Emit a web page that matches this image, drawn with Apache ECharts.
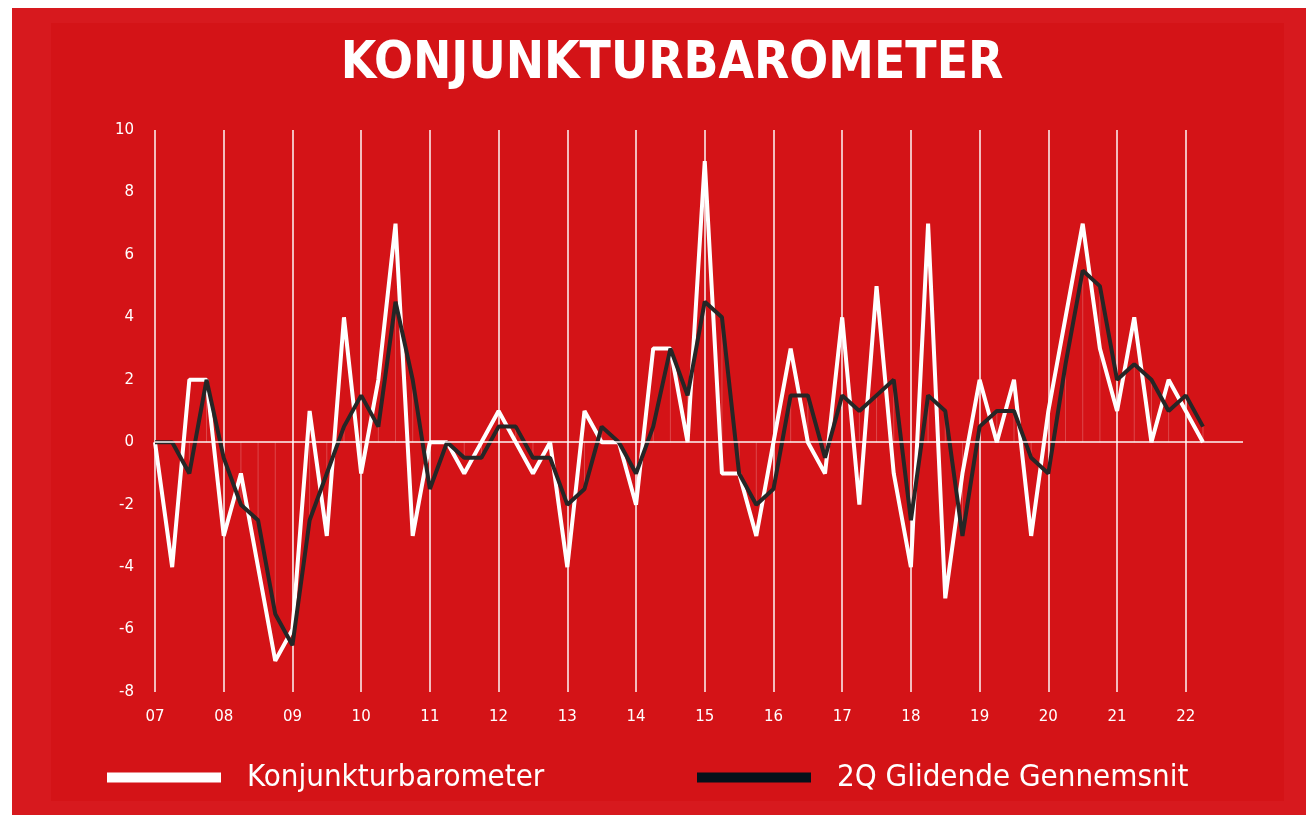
<!DOCTYPE html>
<html>
<head>
<meta charset="utf-8">
<title>Konjunkturbarometer</title>
<script src="https://cdn.jsdelivr.net/npm/echarts@6/dist/echarts.min.js"></script>
<style>
  html, body { margin: 0; padding: 0; background: #fff; }
  #outer { position: absolute; left: 12px; top: 8px; width: 1294px; height: 807px; background: #d7191e; }
  #inner { position: absolute; left: 51px; top: 23px; width: 1233px; height: 778px; background: #d41317; }
  #chart { position: absolute; left: 0; top: 0; width: 1306px; height: 815px; }
</style>
</head>
<body>
<div id="outer"></div>
<div id="inner"></div>
<div id="chart"></div>
<script>
// aarstal paa x-aksen (hvert 4. kvartal)
const years = ['07', '08', '09', '10', '11', '12', '13', '14', '15', '16', '17', '18', '19', '20', '21', '22'];
// kvartaler 07Q1 .. 22Q2
const quarters = years.flatMap(y => ['Q1', 'Q2', 'Q3', 'Q4'].map(q => y + q)).slice(0, 62);

const konjunktur = [
  0, -4, 2, 2, -3, -1, -4, -7,
  -6, 1, -3, 4, -1, 2, 7, -3,
  0, 0, -1, 0, 1, 0, -1, 0,
  -4, 1, 0, 0, -2, 3, 3, 0,
  9, -1, -1, -3, 0, 3, 0, -1,
  4, -2, 5, -1, -4, 7, -5, -1,
  2, 0, 2, -3, 1, 4, 7, 3,
  1, 4, 0, 2, 1, 0
];

const glidende = [
  0, 0, -1, 2, -0.5, -2, -2.5, -5.5,
  -6.5, -2.5, -1, 0.5, 1.5, 0.5, 4.5, 2,
  -1.5, 0, -0.5, -0.5, 0.5, 0.5, -0.5, -0.5,
  -2, -1.5, 0.5, 0, -1, 0.5, 3, 1.5,
  4.5, 4, -1, -2, -1.5, 1.5, 1.5, -0.5,
  1.5, 1, 1.5, 2, -2.5, 1.5, 1, -3,
  0.5, 1, 1, -0.5, -1, 2.5, 5.5, 5,
  2, 2.5, 2, 1, 1.5, 0.5
];

const yTicks = { min: -8, max: 10, step: 2 };

const gridColor = 'rgba(255, 255, 255, 0.72)';
const narrow = "'Liberation Sans Narrow', 'DejaVu Sans Condensed', sans-serif";

const chart = echarts.init(document.getElementById('chart'));

const legendBase = {
  top: 762,
  padding: 0,
  icon: 'rect',
  itemWidth: 114,
  itemHeight: 10,
  textStyle: { color: '#fff', fontSize: 31, fontFamily: narrow, padding: [0, 0, 0, 21] }
};

const option = {
  animation: false,
  title: {
    text: 'KONJUNKTURBAROMETER',
    left: 667,
    top: 34,
    textAlign: 'center',
    textStyle: {
      color: '#fff',
      fontSize: 51,
      fontWeight: 'bold',
      fontFamily: narrow
    }
  },
  legend: [
    Object.assign({}, legendBase, {
      left: 107,
      data: [{ name: 'Konjunkturbarometer', itemStyle: { color: '#ffffff' } }]
    }),
    Object.assign({}, legendBase, {
      left: 697,
      data: [{ name: '2Q Glidende Gennemsnit', itemStyle: { color: '#06111a' } }]
    })
  ],
  grid: {
    left: 155,
    right: 63,
    top: 130,
    bottom: 123
  },
  xAxis: {
    type: 'value',
    min: 0,
    max: 63.33,
    interval: 4,
    axisLine: { show: false },
    axisTick: { show: false },
    axisLabel: {
      color: '#fff',
      fontSize: 15,
      fontFamily: 'DejaVu Sans',
      margin: 18,
      showMaxLabel: false,
      formatter: v => years[v / 4] || ''
    },
    splitLine: {
      show: true,
      // sidste tick (akse-enden) skal ikke have en linje
      lineStyle: { color: years.map(() => gridColor).concat(['rgba(0,0,0,0)']), width: 2 }
    }
  },
  yAxis: {
    type: 'value',
    min: yTicks.min,
    max: yTicks.max,
    interval: yTicks.step,
    axisLine: { show: false },
    axisTick: { show: false },
    splitLine: { show: false },
    axisLabel: {
      color: '#fff',
      fontSize: 15,
      fontFamily: 'DejaVu Sans',
      margin: 21
    }
  },
  series: [
    {
      // svage lodrette linjer fra nul-linjen
      name: 'drop',
      type: 'bar',
      barWidth: 1,
      silent: true,
      itemStyle: { color: 'rgba(255, 255, 255, 0.22)' },
      data: glidende.map((v, i) => [i, v]),
      markLine: {
        silent: true,
        symbol: 'none',
        label: { show: false },
        lineStyle: { color: gridColor, width: 2, type: 'solid' },
        data: [{ yAxis: 0 }]
      }
    },
    {
      name: 'Konjunkturbarometer',
      type: 'line',
      showSymbol: false,
      symbol: 'none',
      data: konjunktur.map((v, i) => [i, v]),
      lineStyle: { color: '#ffffff', width: 4 },
      itemStyle: { color: '#ffffff' }
    },
    {
      name: '2Q Glidende Gennemsnit',
      type: 'line',
      showSymbol: false,
      symbol: 'none',
      data: glidende.map((v, i) => [i, v]),
      lineStyle: { color: '#262626', width: 4 },
      itemStyle: { color: '#262626' }
    }
  ]
};

chart.setOption(option);
</script>
</body>
</html>
